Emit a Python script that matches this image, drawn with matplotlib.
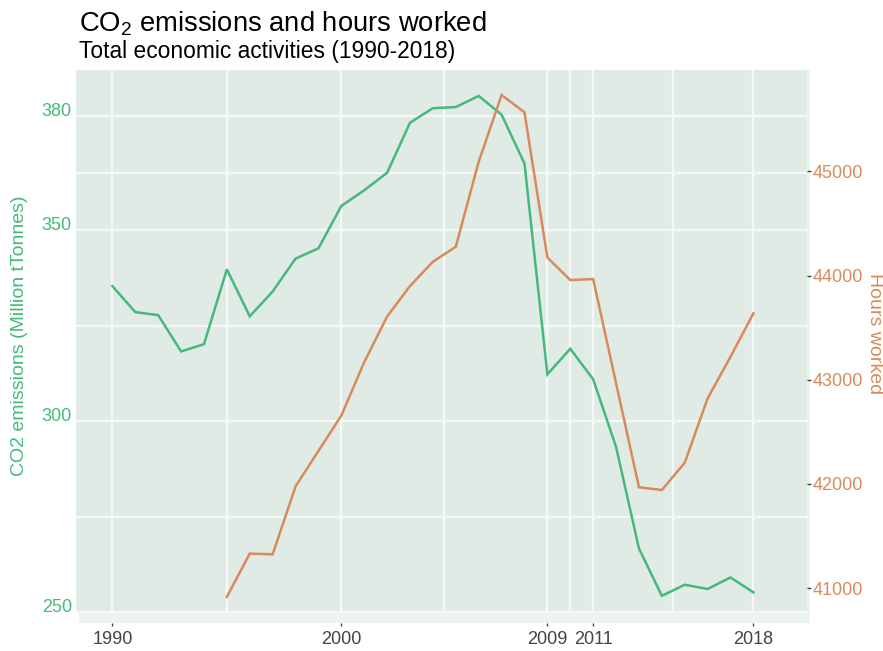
import matplotlib.pyplot as plt

plt.rcParams["font.family"] = ["Liberation Sans", "DejaVu Sans"]
plt.rcParams["mathtext.fontset"] = "custom"
plt.rcParams["mathtext.rm"] = "Liberation Sans"
plt.rcParams["mathtext.it"] = "Liberation Sans"

# data
years = list(range(1990, 2019))
co2 = [335.4, 328.6, 327.8, 318.3, 320.2, 339.8, 327.5, 334.0, 342.6, 345.3,
       356.4, 360.5, 365.1, 378.2, 382.0, 382.3, 385.2, 380.3, 367.5, 312.3,
       319.0, 311.0, 293.3, 266.7, 254.3, 257.2, 256.1, 259.1, 255.2]
hours_years = list(range(1995, 2019))
hours = [40915, 41330, 41324, 41976, 42316, 42656, 43169, 43607, 43900, 44133,
         44277, 45093, 45734, 45567, 44173, 43957, 43967, 42966, 41967, 41941,
         42203, 42821, 43221, 43638]

x_major = [1990, 2000, 2009, 2011, 2018]
x_minor = [1995, 2004.5, 2010, 2014.5]
y_major = [250, 300, 350, 380]
y_minor = [275, 325, 365]
h_ticks = [41000, 42000, 43000, 44000, 45000]

GREEN = "#45b97c"
ORANGE = "#d98a5c"
DARK = "#e1ebe5"
LIGHT = "#edf3f0"
GRID = "#f5f8f6"

W, H = 883, 651
fig = plt.figure(figsize=(W / 100, H / 100), dpi=100)


def box(l, t, r, b):
    return [l / W, 1 - b / H, (r - l) / W, (b - t) / H]


# back panel (carries the x axis)
axb = fig.add_axes(box(79, 70, 810, 623))
axb.set_facecolor(LIGHT)
axb.set_xlim(1988.54, 2020.48)
axb.set_yticks([])
axb.set_xticks(x_major)
axb.tick_params(axis="x", length=2, width=1, color="#444444", pad=4,
                labelsize=13, labelcolor="#444444")
for s in axb.spines.values():
    s.set_visible(False)

# front panel: CO2
ax = fig.add_axes(box(76, 70, 807, 613))
ax.set_facecolor(DARK)
ax.set_xlim(1988.41, 2020.34)
ax.set_ylim(249.8, 392.0)
ax.set_xticks(x_major)
ax.set_xticks(x_minor, minor=True)
ax.set_yticks(y_major)
ax.set_yticks(y_minor, minor=True)
ax.grid(True, which="both", color=GRID, linewidth=1.6)
ax.set_axisbelow(True)
ax.tick_params(axis="x", which="both", length=0, labelbottom=False)
ax.tick_params(axis="y", which="both", length=0, pad=3, labelsize=13,
               labelcolor=GREEN)
for lbl in ax.get_yticklabels():
    lbl.set_verticalalignment("baseline")
for s in ax.spines.values():
    s.set_visible(False)
ax.plot(years, co2, color=GREEN, linewidth=1.8, solid_joinstyle="miter")

# hours worked on the right
ax2 = ax.twinx()
ax2.set_ylim(40760, 45974)
ax2.set_yticks(h_ticks)
ax2.tick_params(axis="y", length=3, width=1, color="#444444", pad=1,
                labelsize=13, labelcolor=ORANGE)
for s in ax2.spines.values():
    s.set_visible(False)
ax2.plot(hours_years, hours, color=ORANGE, linewidth=1.8,
         solid_joinstyle="miter")

axb.set_zorder(0)
ax.set_zorder(1)
ax2.set_zorder(2)

fig.text(20 / W, 1 - 336 / H, "CO2 emissions (Million tTonnes)", rotation=90,
         ha="center", va="center", fontsize=14, color=GREEN)
fig.text(874 / W, 1 - 334 / H, "Hours worked", rotation=270,
         ha="center", va="center", fontsize=14, color=ORANGE)

fig.text(79 / W, 1 - 31.7 / H, r"CO$_2$ emissions and hours worked",
         fontsize=19.7, va="baseline", ha="left")
fig.text(79 / W, 1 - 58.3 / H, "Total economic activities (1990-2018)",
         fontsize=16.4, va="baseline", ha="left")

fig.savefig("out.png", dpi=100)
